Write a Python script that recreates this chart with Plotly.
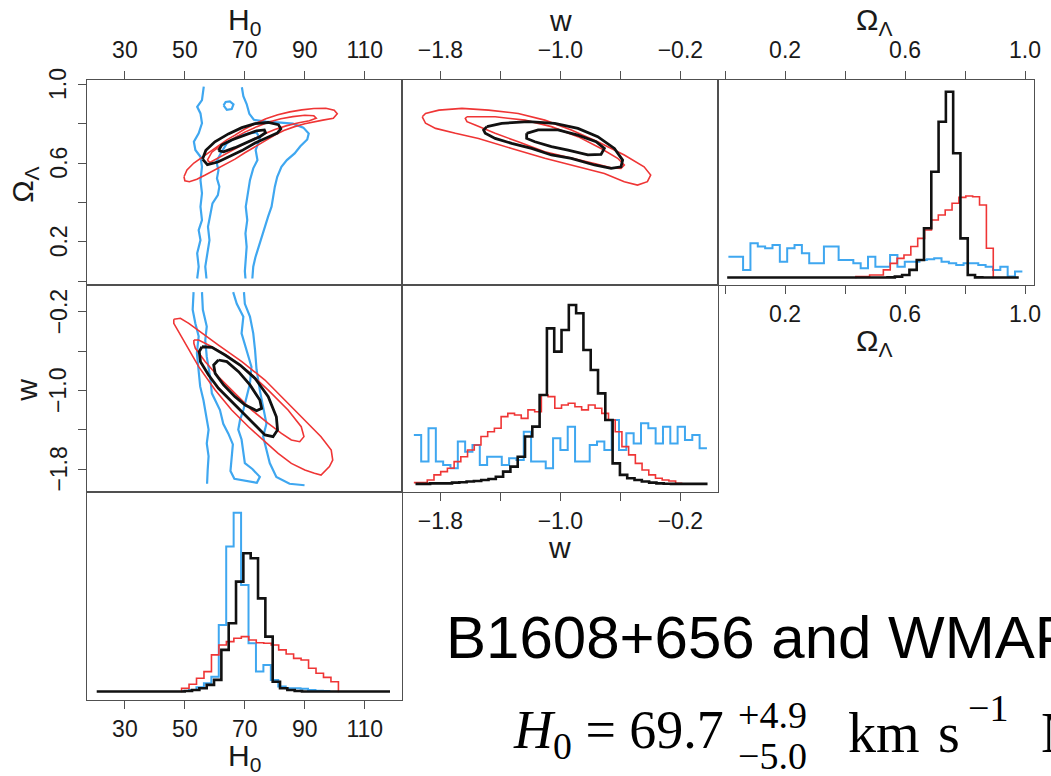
import numpy as np
import plotly.graph_objects as go

# ---------------------------------------------------------------------------
# Joint posteriors for H0, w and Omega_Lambda
# black: B1608+656 + WMAP, red: B1608+656 alone, blue: WMAP alone
# ---------------------------------------------------------------------------

# ---- H0 vs Omega_Lambda credible contours (H0, Omega_Lambda) ----
H0_OL_BLACK_68 = [(61.2, 0.663), (62.3, 0.691), (65.6, 0.717), (70.1, 0.742), (73.9, 0.764),
                  (76.5, 0.768), (76.9, 0.754), (75.0, 0.734), (71.2, 0.708), (66.7, 0.678),
                  (62.9, 0.657), (61.2, 0.663)]
H0_OL_BLACK_95 = [(55.9, 0.62), (57.0, 0.665), (60.0, 0.708), (64.5, 0.748), (69.0, 0.780),
                  (73.4, 0.800), (77.8, 0.806), (81.2, 0.795), (82.0, 0.774), (80.8, 0.752),
                  (77.5, 0.730), (73.4, 0.702), (69.0, 0.663), (64.5, 0.630), (61.0, 0.605),
                  (57.5, 0.592), (55.9, 0.62)]
H0_OL_RED_68 = [(57.5, 0.615), (59.0, 0.655), (62.0, 0.69), (66.0, 0.725), (70.0, 0.757),
                (74.0, 0.785), (78.0, 0.808), (82.0, 0.825), (86.0, 0.836), (90.0, 0.843),
                (93.0, 0.84), (93.8, 0.828), (91.5, 0.815), (88.0, 0.805), (84.0, 0.79),
                (80.0, 0.77), (76.0, 0.745), (72.0, 0.715), (68.0, 0.683), (64.0, 0.65),
                (60.5, 0.62), (58.3, 0.603), (57.5, 0.615)]
H0_OL_RED_95 = [(49.7, 0.53), (50.7, 0.565), (53.0, 0.60), (55.7, 0.63), (58.5, 0.66),
                (61.2, 0.69), (64.0, 0.718), (66.7, 0.742), (70.0, 0.773), (73.4, 0.80),
                (77.0, 0.825), (81.0, 0.845), (85.0, 0.86), (89.0, 0.87), (93.0, 0.877),
                (97.0, 0.878), (99.8, 0.868), (100.8, 0.85), (99.5, 0.828), (96.0, 0.818),
                (93.2, 0.81), (90.0, 0.80), (86.6, 0.785), (83.0, 0.765), (80.0, 0.742),
                (76.5, 0.712), (73.4, 0.683), (70.0, 0.652), (66.7, 0.62), (64.0, 0.597),
                (61.2, 0.573), (58.5, 0.553), (56.8, 0.539), (54.0, 0.518), (51.5, 0.505),
                (50.0, 0.51), (49.7, 0.53)]
H0_OL_BLUE_95_LEFT = [(56.3, 0.988), (55.7, 0.92), (54.1, 0.886), (55.2, 0.852), (55.7, 0.802),
                      (54.6, 0.751), (53.0, 0.708), (53.5, 0.666), (55.2, 0.632), (55.7, 0.581),
                      (55.2, 0.513), (55.7, 0.446), (55.2, 0.378), (55.7, 0.31), (54.6, 0.259),
                      (55.2, 0.208), (54.1, 0.141), (54.6, 0.073), (54.1, 0.013)]
H0_OL_BLUE_95_RIGHT = [(69.0, 0.985), (69.5, 0.94), (70.6, 0.90), (71.5, 0.85), (73.0, 0.82),
                       (77.0, 0.81), (82.0, 0.805), (86.0, 0.80), (89.5, 0.78), (91.3, 0.75),
                       (90.8, 0.72), (88.5, 0.685), (86.6, 0.649), (84.0, 0.615), (82.2, 0.581),
                       (80.8, 0.53), (80.0, 0.48), (79.5, 0.43), (78.9, 0.378), (77.8, 0.33),
                       (76.7, 0.276), (75.6, 0.225), (74.5, 0.175), (73.5, 0.12), (72.8, 0.073),
                       (72.5, 0.013)]
H0_OL_BLUE_68 = [(57.2, 0.013), (56.8, 0.073), (57.5, 0.141), (58.2, 0.208), (57.7, 0.276),
                 (58.7, 0.344), (59.2, 0.395), (61.0, 0.437), (61.5, 0.48), (60.7, 0.522),
                 (61.2, 0.564), (60.5, 0.607), (61.8, 0.645), (64.0, 0.70), (67.5, 0.735),
                 (71.0, 0.75), (73.9, 0.755), (75.0, 0.725), (73.6, 0.666), (74.2, 0.615),
                 (72.8, 0.573), (71.7, 0.513), (71.0, 0.446), (70.3, 0.378), (70.8, 0.31),
                 (70.2, 0.242), (70.6, 0.174), (70.4, 0.107), (70.0, 0.05), (70.2, 0.013)]
H0_OL_BLUE_68_ISLAND = [(62.9, 0.893), (63.6, 0.91), (65.0, 0.913), (66.2, 0.898), (65.6, 0.874),
                        (64.0, 0.870), (62.9, 0.893)]

# ---- w vs Omega_Lambda credible contours (w, Omega_Lambda) ----
W_OL_BLACK_68 = [(-1.225, 0.751), (-1.148, 0.768), (-1.016, 0.768), (-0.883, 0.742),
                 (-0.762, 0.708), (-0.707, 0.674), (-0.729, 0.644), (-0.817, 0.641),
                 (-0.949, 0.666), (-1.060, 0.683), (-1.170, 0.708), (-1.225, 0.725),
                 (-1.225, 0.751)]
W_OL_BLACK_95 = [(-1.490, 0.785), (-1.391, 0.802), (-1.214, 0.810), (-1.038, 0.802),
                 (-0.883, 0.776), (-0.751, 0.734), (-0.640, 0.674), (-0.585, 0.615),
                 (-0.596, 0.581), (-0.662, 0.573), (-0.773, 0.590), (-0.927, 0.624),
                 (-1.060, 0.641), (-1.192, 0.674), (-1.325, 0.700), (-1.435, 0.725),
                 (-1.501, 0.751), (-1.512, 0.768), (-1.490, 0.785)]
W_OL_RED_68 = [(-1.623, 0.835), (-1.435, 0.835), (-1.236, 0.818), (-1.060, 0.785),
               (-0.883, 0.734), (-0.729, 0.674), (-0.618, 0.624), (-0.574, 0.590),
               (-0.596, 0.573), (-0.662, 0.576), (-0.773, 0.598), (-0.927, 0.624),
               (-1.104, 0.657), (-1.281, 0.708), (-1.435, 0.751), (-1.568, 0.793),
               (-1.623, 0.810), (-1.634, 0.827), (-1.623, 0.835)]
W_OL_RED_95 = [(-1.921, 0.835), (-1.899, 0.852), (-1.810, 0.869), (-1.656, 0.878),
               (-1.479, 0.869), (-1.281, 0.852), (-1.104, 0.818), (-0.927, 0.768),
               (-0.751, 0.708), (-0.574, 0.641), (-0.442, 0.581), (-0.398, 0.539),
               (-0.420, 0.505), (-0.486, 0.488), (-0.574, 0.505), (-0.707, 0.547),
               (-0.883, 0.581), (-1.104, 0.624), (-1.325, 0.674), (-1.546, 0.725),
               (-1.700, 0.751), (-1.832, 0.776), (-1.899, 0.802), (-1.921, 0.835)]

# ---- H0 vs w credible contours (H0, w) ----
H0_W_BLACK_68 = [(61.2, -0.691), (64.0, -0.708), (67.9, -0.810), (71.7, -0.945), (75.0, -1.098),
                 (75.6, -1.183), (73.9, -1.207), (70.1, -1.149), (66.7, -1.064), (62.9, -0.945),
                 (60.1, -0.827), (59.6, -0.742), (61.2, -0.691)]
H0_W_BLACK_95 = [(55.7, -0.556), (59.0, -0.562), (63.4, -0.640), (68.4, -0.742), (73.4, -0.878),
                 (77.8, -1.064), (80.5, -1.268), (80.9, -1.403), (79.4, -1.471), (76.7, -1.454),
                 (73.4, -1.352), (69.5, -1.234), (65.1, -1.098), (61.2, -0.979), (57.9, -0.844),
                 (55.2, -0.708), (54.8, -0.606), (55.7, -0.556)]
H0_W_RED_68 = [(53.0, -0.488), (54.6, -0.488), (59.0, -0.556), (64.5, -0.657), (71.2, -0.810),
               (77.8, -0.997), (84.4, -1.200), (88.8, -1.370), (89.7, -1.471), (88.3, -1.522),
               (85.5, -1.505), (82.2, -1.437), (77.8, -1.336), (72.3, -1.200), (66.7, -1.030),
               (61.2, -0.861), (56.8, -0.708), (53.5, -0.572), (53.0, -0.522), (53.0, -0.488)]
H0_W_RED_95 = [(46.3, -0.277), (48.5, -0.267), (51.3, -0.318), (55.7, -0.420), (61.2, -0.539),
               (69.0, -0.708), (76.7, -0.895), (83.3, -1.098), (90.0, -1.302), (95.4, -1.471),
               (98.8, -1.607), (99.3, -1.709), (98.2, -1.776), (96.6, -1.827), (95.4, -1.861),
               (93.2, -1.844), (90.0, -1.810), (85.5, -1.743), (81.1, -1.641), (76.7, -1.522),
               (71.2, -1.370), (65.6, -1.200), (60.1, -0.997), (54.6, -0.759), (50.2, -0.522),
               (47.4, -0.369), (46.3, -0.318), (46.3, -0.277)]
H0_W_BLUE_95_LEFT = [(52.9, 0.0), (52.6, -0.18), (53.5, -0.32), (54.6, -0.45), (54.0, -0.62),
                     (54.6, -0.79), (55.1, -0.96), (56.2, -1.10), (57.3, -1.27), (57.9, -1.40),
                     (57.3, -1.54), (57.9, -1.67), (57.6, -1.81), (57.4, -1.95)]
H0_W_BLUE_95_RIGHT = [(69.7, 0.0), (70.0, -0.12), (71.7, -0.25), (72.8, -0.42), (73.4, -0.59),
                      (73.9, -0.79), (75.0, -1.00), (76.1, -1.17), (77.2, -1.34), (76.1, -1.47),
                      (77.2, -1.61), (78.3, -1.74), (80.5, -1.88), (84.9, -1.95), (89.9, -1.965)]
H0_W_BLUE_68 = [(55.7, 0.0), (56.0, -0.18), (57.3, -0.35), (56.8, -0.49), (57.3, -0.66),
                (58.4, -0.86), (59.0, -1.03), (61.7, -1.20), (62.8, -1.34), (64.5, -1.44),
                (66.0, -1.55), (65.5, -1.70), (65.2, -1.82), (66.5, -1.90), (70.0, -1.92),
                (74.0, -1.94), (75.0, -1.88), (72.5, -1.80), (70.0, -1.74), (69.4, -1.62),
                (68.9, -1.50), (67.8, -1.40), (68.4, -1.30), (69.5, -1.20), (70.6, -1.06),
                (71.7, -0.93), (72.2, -0.76), (70.6, -0.59), (68.9, -0.42), (69.5, -0.25),
                (67.3, -0.12), (66.1, 0.0)]

# ---- marginal histograms: (first edge, last edge) and bin heights ----
OL_BLACK_RANGE = (0.007, 0.979)
OL_BLACK = [0.004] * 22 + [0.005, 0.009, 0.018, 0.045, 0.098, 0.268, 0.571, 0.839, 1.0,
                           0.670, 0.214, 0.018, 0.005, 0.004, 0.004, 0.004, 0.004, 0.004]
OL_BLUE_RANGE = (0.011, 0.991)
OL_BLUE = [0.116, 0.116, 0.045, 0.188, 0.170, 0.161, 0.179, 0.089, 0.161, 0.179,
           0.134, 0.080, 0.080, 0.170, 0.170, 0.098, 0.098, 0.080, 0.054, 0.116,
           0.0625, 0.0625, 0.125, 0.0625, 0.089, 0.089, 0.098, 0.102, 0.107, 0.089,
           0.080, 0.071, 0.080, 0.080, 0.071, 0.0625, 0.045, 0.0625, 0.009, 0.036]
OL_RED_RANGE = (0.436, 0.894)
OL_RED = [0.009, 0.009, 0.018, 0.018, 0.045, 0.080, 0.107, 0.125, 0.170, 0.214,
          0.259, 0.3125, 0.339, 0.366, 0.402, 0.434, 0.441, 0.4375, 0.393, 0.161]

W_BLACK_RANGE = (-1.966, -0.019)
W_BLACK = [0.006, 0.006, 0.009, 0.009, 0.009, 0.013, 0.015, 0.019, 0.022, 0.028,
           0.033, 0.046, 0.074, 0.102, 0.157, 0.269, 0.324, 0.5, 0.870, 0.741,
           0.861, 1.0, 0.954, 0.75, 0.639, 0.509, 0.361, 0.120, 0.056, 0.037,
           0.028, 0.019, 0.013, 0.009, 0.007, 0.006, 0.006, 0.006, 0.006, 0.006]
W_RED_RANGE = (-1.977, -0.187)
W_RED = [0.013, 0.013, 0.028, 0.056, 0.074, 0.093, 0.130, 0.157, 0.194, 0.222,
         0.269, 0.296, 0.315, 0.380, 0.398, 0.389, 0.370, 0.417, 0.407, 0.5,
         0.491, 0.426, 0.444, 0.454, 0.435, 0.417, 0.444, 0.426, 0.398, 0.361,
         0.296, 0.213, 0.167, 0.120, 0.083, 0.056, 0.037, 0.028, 0.022, 0.009]
W_BLUE_RANGE = (-1.977, -0.023)
W_BLUE = [0.278, 0.130, 0.315, 0.130, 0.111, 0.093, 0.241, 0.185, 0.222, 0.111,
          0.157, 0.157, 0.111, 0.148, 0.139, 0.296, 0.130, 0.130, 0.093, 0.259,
          0.194, 0.324, 0.130, 0.130, 0.222, 0.241, 0.194, 0.361, 0.194, 0.287,
          0.231, 0.343, 0.315, 0.231, 0.324, 0.231, 0.324, 0.25, 0.278, 0.204]

H0_BLACK_RANGE = (20.6, 118.4)
H0_BLACK = [0.004] * 12 + [0.007, 0.013, 0.022, 0.041, 0.069, 0.236, 0.384, 0.616,
                           0.774, 0.746, 0.523, 0.31, 0.059, 0.022, 0.013, 0.007,
                           0.004, 0.004, 0.004, 0.004, 0.004, 0.004, 0.004, 0.004,
                           0.004, 0.004, 0.004, 0.004]
H0_BLUE_RANGE = (48.9, 98.5)
H0_BLUE = [0.007, 0.013, 0.028, 0.05, 0.087, 0.375, 0.811, 1.0, 0.597, 0.273,
           0.115, 0.152, 0.069, 0.032, 0.022, 0.022, 0.019, 0.013, 0.009, 0.007]
H0_RED_RANGE = (48.9, 101.2)
H0_RED = [0.022, 0.045, 0.078, 0.115, 0.208, 0.263, 0.282, 0.301, 0.31, 0.291,
          0.276, 0.273, 0.263, 0.236, 0.213, 0.189, 0.18, 0.134, 0.106, 0.083, 0.059]

# ---- axis ticks ----
H0_TICKS = [30, 50, 70, 90, 110]
OL_TICKS = [0.0, 0.2, 0.4, 0.6, 0.8, 1.0]
OL_TICK_TEXT = ["", "0.2", "", "0.6", "", "1.0"]
W_TICKS = [-1.8, -1.4, -1.0, -0.6, -0.2]
W_TICK_TEXT = ["\u22121.8", "", "\u22121.0", "", "\u22120.2"]

TITLE = "B1608+656 and WMAP"

# ---------------------------------------------------------------------------
FIG_W, FIG_H = 1051, 776
BLACK = "#111111"
RED = "#EF3535"
BLUE = "#3FA7F0"
FRAME = "#505050"
TXT = "#1a1a1a"
SANS = "Liberation Sans, Arial, sans-serif"
SERIF = "Liberation Serif, Times New Roman, serif"

COLS = [(88, 405), (405, 723), (723, 1041)]
ROWS = [(80, 285), (285, 492), (492, 700)]


def xdom(c):
    a, b = COLS[c]
    return [a / FIG_W, b / FIG_W]


def ydom(r):
    t, b = ROWS[r]
    return [1 - b / FIG_H, 1 - t / FIG_H]


def px_x(p):
    return p / FIG_W


def px_y(p):
    return 1 - p / FIG_H


def xy(*segments):
    xs, ys = [], []
    for seg in segments:
        if xs:
            xs.append(None)
            ys.append(None)
        xs += [p[0] for p in seg]
        ys += [p[1] for p in seg]
    return xs, ys


def step(rng, heights, rise=False, drop=False):
    edges = np.linspace(rng[0], rng[1], len(heights) + 1)
    xs = list(edges)
    ys = list(heights) + [heights[-1]]
    if rise:
        xs = [edges[0]] + xs
        ys = [0.0] + ys
    if drop:
        xs.append(edges[-1])
        ys.append(0.0)
    return xs, ys


fig = go.Figure()


def add_line(pts_xy, color, width, xa, ya, shape="linear"):
    fig.add_trace(go.Scatter(x=pts_xy[0], y=pts_xy[1], mode="lines",
                             line=dict(color=color, width=width, shape=shape),
                             xaxis=xa, yaxis=ya, showlegend=False, hoverinfo="skip"))


# panel: H0 vs Omega_Lambda
add_line(xy(H0_OL_BLUE_95_LEFT, H0_OL_BLUE_95_RIGHT, H0_OL_BLUE_68, H0_OL_BLUE_68_ISLAND),
         BLUE, 2.2, "x", "y")
add_line(xy(H0_OL_RED_95, H0_OL_RED_68), RED, 1.6, "x", "y")
add_line(xy(H0_OL_BLACK_95, H0_OL_BLACK_68), BLACK, 2.8, "x", "y")

# panel: w vs Omega_Lambda
add_line(xy(W_OL_RED_95, W_OL_RED_68), RED, 1.6, "x2", "y2")
add_line(xy(W_OL_BLACK_95, W_OL_BLACK_68), BLACK, 2.8, "x2", "y2")

# panel: Omega_Lambda marginal (top axis x3, bottom axis x4 share one range)
add_line(step(OL_BLUE_RANGE, OL_BLUE), BLUE, 2.0, "x3", "y3", "hv")
add_line(step(OL_RED_RANGE, OL_RED, rise=True, drop=True), RED, 1.6, "x3", "y3", "hv")
add_line(step(OL_BLACK_RANGE, OL_BLACK), BLACK, 2.6, "x4", "y3", "hv")

# panel: H0 vs w
add_line(xy(H0_W_BLUE_95_LEFT, H0_W_BLUE_95_RIGHT, H0_W_BLUE_68), BLUE, 2.2, "x5", "y5")
add_line(xy(H0_W_RED_95, H0_W_RED_68), RED, 1.6, "x5", "y5")
add_line(xy(H0_W_BLACK_95, H0_W_BLACK_68), BLACK, 2.8, "x5", "y5")

# panel: w marginal
add_line(step(W_BLUE_RANGE, W_BLUE), BLUE, 2.0, "x6", "y6", "hv")
add_line(step(W_RED_RANGE, W_RED), RED, 1.6, "x6", "y6", "hv")
add_line(step(W_BLACK_RANGE, W_BLACK), BLACK, 2.6, "x6", "y6", "hv")

# panel: H0 marginal
add_line(step(H0_BLUE_RANGE, H0_BLUE), BLUE, 2.0, "x7", "y7", "hv")
add_line(step(H0_RED_RANGE, H0_RED, rise=True, drop=True), RED, 1.6, "x7", "y7", "hv")
add_line(step(H0_BLACK_RANGE, H0_BLACK), BLACK, 2.6, "x7", "y7", "hv")

# ---------------------------------------------------------------------------
H0_RANGE = [17.5, 122.5]
W_XRANGE = [-2.054, 0.052]
OL_XRANGE = [-0.023, 1.030]
OL_YRANGE = [-0.020, 1.022]
W_YRANGE = [-2.034, 0.072]

LABEL_SIZE = 23
tickfont = dict(family=SANS, size=LABEL_SIZE, color=TXT)
TOP_OFF, BOTTOM_OFF = 4, 0


def frame(**kw):
    d = dict(showline=True, linecolor=FRAME, linewidth=1.3, mirror=True,
             showgrid=False, zeroline=False, ticks="", showticklabels=False,
             fixedrange=True)
    d.update(kw)
    return d


def ticked(vals, text, labels=True, **kw):
    d = dict(ticks="outside", ticklen=8, tickwidth=1.3, tickcolor=FRAME,
             showticklabels=labels, tickmode="array", tickvals=vals, ticktext=text,
             tickfont=tickfont)
    d.update(kw)
    return d


H0_TEXT = [str(v) for v in H0_TICKS]

layout = dict(
    width=FIG_W, height=FIG_H, margin=dict(l=0, r=0, t=0, b=0),
    paper_bgcolor="white", plot_bgcolor="white", showlegend=False,
    # row 1
    xaxis=frame(domain=xdom(0), anchor="y", range=H0_RANGE, side="top",
                **ticked(H0_TICKS, H0_TEXT, ticklabelstandoff=TOP_OFF)),
    yaxis=frame(domain=ydom(0), anchor="x", range=OL_YRANGE,
                **ticked(OL_TICKS, OL_TICK_TEXT, labels=False)),
    xaxis2=frame(domain=xdom(1), anchor="y2", range=W_XRANGE, side="top",
                 **ticked(W_TICKS, W_TICK_TEXT, ticklabelstandoff=TOP_OFF)),
    yaxis2=frame(domain=ydom(0), anchor="x2", range=OL_YRANGE),
    xaxis3=frame(domain=xdom(2), anchor="y3", range=OL_XRANGE, side="top",
                 **ticked(OL_TICKS, OL_TICK_TEXT, ticklabelstandoff=TOP_OFF)),
    xaxis4=dict(domain=xdom(2), anchor="y3", overlaying="x3", range=OL_XRANGE, side="bottom",
                showline=False, showgrid=False, zeroline=False, fixedrange=True,
                **ticked(OL_TICKS, OL_TICK_TEXT, ticklabelstandoff=BOTTOM_OFF)),
    yaxis3=frame(domain=ydom(0), anchor="x3", range=[-0.036, 1.063]),
    # row 2
    xaxis5=frame(domain=xdom(0), anchor="y5", range=H0_RANGE),
    yaxis5=frame(domain=ydom(1), anchor="x5", range=W_YRANGE,
                 **ticked(W_TICKS, W_TICK_TEXT, labels=False)),
    xaxis6=frame(domain=xdom(1), anchor="y6", range=W_XRANGE,
                 **ticked(W_TICKS, W_TICK_TEXT, ticklabelstandoff=BOTTOM_OFF)),
    yaxis6=frame(domain=ydom(1), anchor="x6", range=[-0.039, 1.111]),
    # row 3
    xaxis7=frame(domain=xdom(0), anchor="y7", range=H0_RANGE,
                 **ticked(H0_TICKS, H0_TEXT, ticklabelstandoff=BOTTOM_OFF)),
    yaxis7=frame(domain=ydom(2), anchor="x7", range=[-0.043, 1.115]),
)
fig.update_layout(**layout)

# rotated y tick labels, placed on the y axes' own scales
for yref, vals, texts in (("y", OL_TICKS, OL_TICK_TEXT), ("y5", W_TICKS, W_TICK_TEXT)):
    for v, t in zip(vals, texts):
        if t:
            fig.add_annotation(text=t, x=px_x(59), y=v, xref="paper", yref=yref,
                               xanchor="center", yanchor="middle", showarrow=False,
                               textangle=-90, font=tickfont)

# axis titles
H0_LABEL = "H<sub>0</sub>"
OL_LABEL = "\u03a9<sub>\u039b</sub>"
titles = [
    (H0_LABEL, 246, 21, 0),
    ("w", 564, 20, 0),
    (OL_LABEL, 880, 21, 0),
    (OL_LABEL, 880, 342, 0),
    ("w", 563, 547, 0),
    (H0_LABEL, 246, 757, 0),
    (OL_LABEL, 24, 185, -90),
    ("w", 26, 390, -90),
]
for text, px, py, ang in titles:
    fig.add_annotation(text=text, x=px_x(px), y=px_y(py), xref="paper", yref="paper",
                       xanchor="center", yanchor="middle", showarrow=False, textangle=ang,
                       font=dict(family=SANS, size=30, color=TXT))

# headline
fig.add_annotation(text=TITLE, x=px_x(447), y=px_y(637), xref="paper", yref="paper",
                   xanchor="left", yanchor="middle", showarrow=False,
                   font=dict(family=SANS, size=60, color="#000000"))

# result line: H0 = 69.7 (+4.9 / -5.0) km s^-1 Mpc^-1
RESULT_PIECES = [
    ("<i>H</i><sub>0</sub> = 69.7", 514, 733, 54),
    ("+4.9", 741, 715, 38),
    ("\u22125.0", 741, 756, 38),
    ("km", 852, 733, 56),
    ("s", 942, 733, 56),
    ("\u22121", 972, 708, 38),
    ("Mpc", 1046, 733, 56),
]
for text, px, py, size in RESULT_PIECES:
    fig.add_annotation(text=text, x=px_x(px), y=px_y(py), xref="paper", yref="paper",
                       xanchor="left", yanchor="middle", showarrow=False,
                       font=dict(family=SERIF, size=size, color="#000000"))

fig.write_html("out.html", post_script="document.body.style.margin = '0px';")
